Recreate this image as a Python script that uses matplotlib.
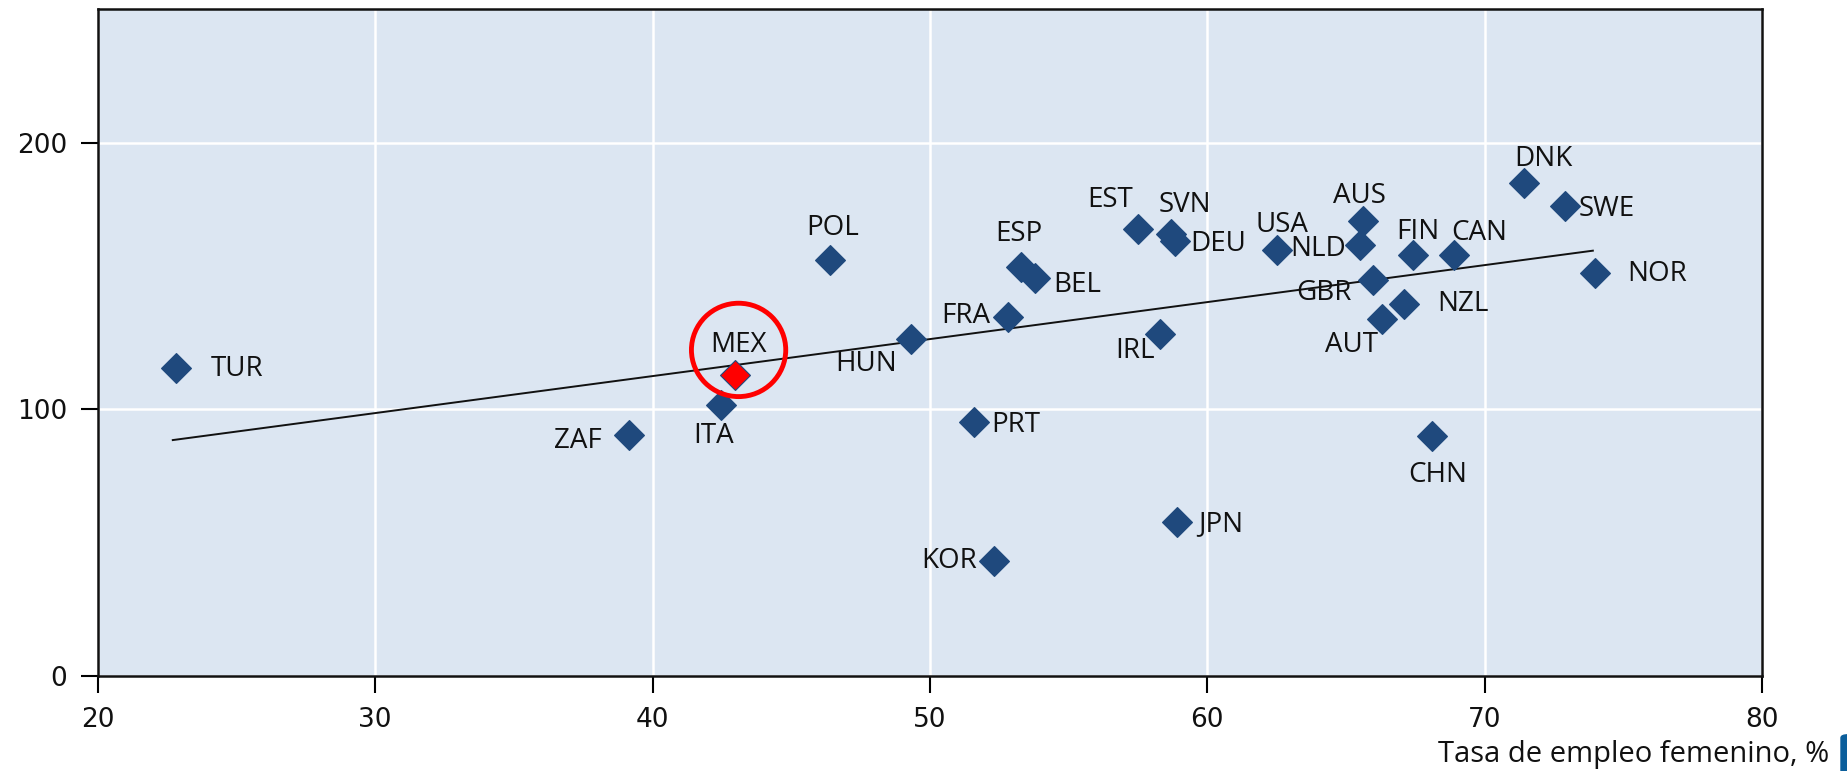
import matplotlib

matplotlib.use("Agg")
import matplotlib.pyplot as plt
from matplotlib.patches import Ellipse, FancyBboxPatch

plt.rcParams["font.family"] = ["Open Sans", "DejaVu Sans"]

# female employment rate (%) vs. value, one point per country
countries = ["TUR", "ZAF", "ITA", "MEX", "POL", "HUN", "PRT", "KOR", "FRA", "ESP",
             "BEL", "EST", "IRL", "SVN", "DEU", "JPN", "USA", "AUS", "NLD", "GBR",
             "AUT", "FIN", "NZL", "CAN", "CHN", "DNK", "SWE", "NOR"]
emp = [22.8, 39.15, 42.46, 42.97, 46.4, 49.3, 51.6, 52.3, 52.8, 53.3,
       53.8, 57.5, 58.3, 58.7, 58.85, 58.9, 62.5, 65.6, 65.5, 65.97,
       66.3, 67.4, 67.1, 68.9, 68.1, 71.4, 72.9, 73.97]
val = [115.4, 90.3, 101.8, 112.8, 156.0, 126.4, 95.2, 43.2, 134.8, 153.3,
       149.3, 167.8, 128.2, 165.6, 163.0, 57.7, 159.9, 170.5, 161.7, 148.5,
       133.9, 157.7, 139.6, 157.7, 89.9, 185.0, 176.2, 151.1]
# label anchor positions (data coords)
lab_x = [25.0, 37.3, 42.2, 43.1, 46.5, 47.7, 53.1, 50.7, 51.3, 53.2,
         55.3, 56.5, 57.4, 59.2, 60.4, 60.5, 62.7, 65.5, 64.0, 64.2,
         65.2, 67.6, 69.2, 69.8, 68.3, 72.1, 74.4, 76.2]
lab_y = [115, 88, 90, 124, 168, 117, 94, 43, 135, 165.6,
         146.7, 178.4, 122, 176.7, 162, 57, 169, 180, 160, 143.6,
         124, 166.5, 139.6, 166, 75.3, 194, 175, 150.7]

trend_x = [22.7, 73.9]
trend_y = [88.5, 159.5]

highlight = "MEX"
navy = "#1F497D"

fig = plt.figure(figsize=(18.47, 7.71), dpi=100)
ax = fig.add_axes([0.053, 0.123, 0.901, 0.865])
ax.set_facecolor("#DCE6F2")

ax.plot(trend_x, trend_y, color="#111111", lw=1.4, zorder=3)

for c, x, y, lx, ly in zip(countries, emp, val, lab_x, lab_y):
    col = "#FF0000" if c == highlight else navy
    ax.plot(x, y, marker="D", ms=15, color=col, mec=navy, mew=0.8,
            ls="none", zorder=4)
    ax.text(lx, ly, c, ha="center", va="center", fontsize=20, color="#111111", zorder=5)

# red circle around MEX
ax.add_patch(Ellipse((43.1, 122.3), 3.4, 35, fill=False, ec="#FF0000", lw=3.5, zorder=6))

ax.set_xlim(20, 80)
ax.set_ylim(0, 250)
ax.set_xticks(range(20, 81, 10))
ax.set_yticks([0, 100, 200])
ax.grid(True, color="white", lw=1.8, zorder=0)
ax.set_axisbelow(True)
ax.tick_params(direction="out", length=12, width=1.5, labelsize=19, pad=10,
               labelcolor="#111111", labelfontfamily="DejaVu Sans")
for s in ax.spines.values():
    s.set_linewidth(1.8)
    s.set_color("#111111")

fig.text(0.9905, 0.022, "Tasa de empleo femenino, %", ha="right", va="center",
         fontsize=21, color="#111111")

# logo fragment at right edge
fig.patches.append(FancyBboxPatch((1841 / 1847, -0.02), 0.01, 0.067,
                                  boxstyle="round,pad=0,rounding_size=0.004",
                                  transform=fig.transFigure, color="#0B5E9B"))

fig.savefig("out.png", dpi=100)
